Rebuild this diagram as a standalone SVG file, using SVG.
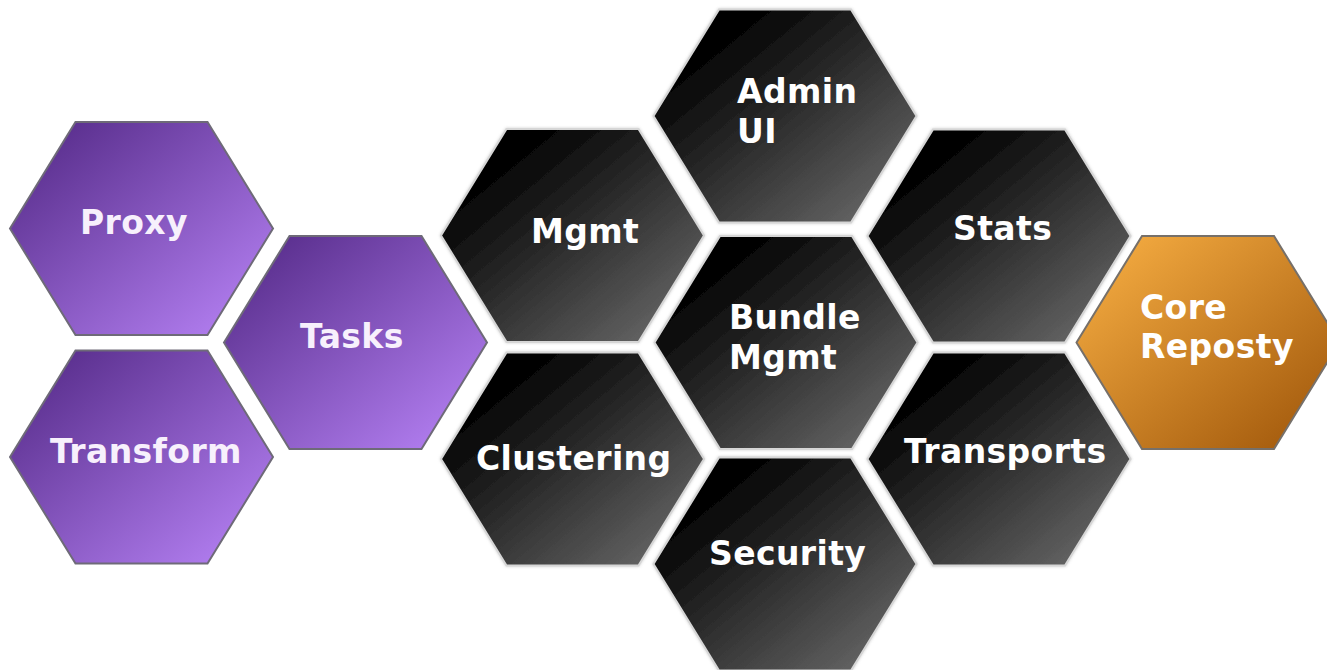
<svg xmlns="http://www.w3.org/2000/svg" width="1327" height="670" viewBox="0 0 1327 670">
  <defs>
    <linearGradient id="gPurple" x1="0" y1="0" x2="1" y2="1">
      <stop offset="0.1" stop-color="#5a2f8e"/>
      <stop offset="1" stop-color="#bb86fa"/>
    </linearGradient>
    <linearGradient id="gDark" x1="0" y1="0" x2="1" y2="1">
      <stop offset="0.18" stop-color="#000000"/>
      <stop offset="1" stop-color="#727272"/>
    </linearGradient>
    <linearGradient id="gOrange" x1="0" y1="0" x2="1" y2="1">
      <stop offset="0.05" stop-color="#f6ad42"/>
      <stop offset="1" stop-color="#9c5308"/>
    </linearGradient>
    <!-- flat-topped hexagon centred on the origin -->
    <path id="hex" d="M-131.5,0 L-66,-106.5 L66,-106.5 L131.5,0 L66,106.5 L-66,106.5 Z"/>
    <filter id="halo" x="-10%" y="-10%" width="120%" height="120%">
      <feGaussianBlur in="SourceAlpha" stdDeviation="1.6" result="b"/>
      <feFlood flood-color="#cfcfcf"/>
      <feComposite in2="b" operator="in" result="glow"/>
      <feMerge><feMergeNode in="glow"/><feMergeNode in="SourceGraphic"/></feMerge>
    </filter>
  </defs>
  <style>
    .purple { fill: url(#gPurple); stroke: #6e6a78; stroke-width: 2; }
    .dark { fill: url(#gDark); stroke: #d6d6d6; stroke-width: 2; filter: url(#halo); }
    .orange { fill: url(#gOrange); stroke: #76706a; stroke-width: 2; }
    .label { font-family: "DejaVu Sans", Verdana, sans-serif; font-weight: bold; font-size: 33px; letter-spacing: 0.4px; fill: #ffffff; }
    .label.light { fill: #f7f0fc; }
  </style>

  <rect width="1327" height="670" fill="#ffffff"/>

  <g id="connectors"></g>

  <g id="proxy">
    <use href="#hex" x="141.5" y="228.5" class="purple"/>
    <text class="label light" x="80" y="234">Proxy</text>
  </g>
  <g id="transform">
    <use href="#hex" x="141.5" y="457" class="purple"/>
    <text class="label light" x="50" y="463">Transform</text>
  </g>
  <g id="tasks">
    <use href="#hex" x="355.5" y="342.5" class="purple"/>
    <text class="label light" x="300" y="348">Tasks</text>
  </g>
  <g id="mgmt">
    <use href="#hex" x="572.5" y="235.5" class="dark"/>
    <text class="label" x="531" y="243">Mgmt</text>
  </g>
  <g id="clustering">
    <use href="#hex" x="572.5" y="459" class="dark"/>
    <text class="label" x="476" y="470">Clustering</text>
  </g>
  <g id="admin-ui">
    <use href="#hex" x="785" y="116" class="dark"/>
    <text class="label" x="737" y="103">Admin</text>
    <text class="label" x="737" y="143">UI</text>
  </g>
  <g id="bundle-mgmt">
    <use href="#hex" x="786" y="342.5" class="dark"/>
    <text class="label" x="729" y="329">Bundle</text>
    <text class="label" x="729" y="369">Mgmt</text>
  </g>
  <g id="security">
    <use href="#hex" x="785" y="564" class="dark"/>
    <text class="label" x="709" y="565">Security</text>
  </g>
  <g id="stats">
    <use href="#hex" x="999" y="236" class="dark"/>
    <text class="label" x="953" y="240">Stats</text>
  </g>
  <g id="transports">
    <use href="#hex" x="999" y="459" class="dark"/>
    <text class="label" x="904" y="463">Transports</text>
  </g>
  <g id="core-reposty">
    <use href="#hex" x="1208" y="342.5" class="orange"/>
    <text class="label" x="1140" y="319">Core</text>
    <text class="label" x="1140" y="358">Reposty</text>
  </g>
</svg>
